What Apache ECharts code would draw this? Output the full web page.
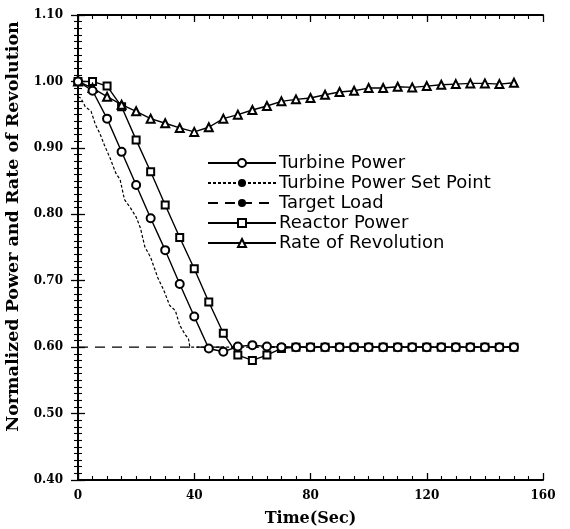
<!DOCTYPE html>
<html>
<head>
<meta charset="utf-8">
<script src="https://cdn.jsdelivr.net/npm/echarts@6/dist/echarts.min.js"></script>
<style>
  html, body { margin: 0; padding: 0; background: #fff; }
  #chart { width: 570px; height: 529px; }
</style>
</head>
<body>
<div id="chart"></div>
<script>
// sample times (sec) for the marked curves
const time = [0, 5, 10, 15, 20, 25, 30, 35, 40, 45, 50, 55, 60, 65, 70, 75, 80, 85, 90, 95,
  100, 105, 110, 115, 120, 125, 130, 135, 140, 145, 150]

const turbinePower = [1.000, 0.986, 0.944, 0.894, 0.844, 0.794, 0.746, 0.695, 0.646, 0.598,
  0.593, 0.601, 0.603, 0.601, 0.600, 0.600, 0.600, 0.600, 0.600, 0.600,
  0.600, 0.600, 0.600, 0.600, 0.600, 0.600, 0.600, 0.600, 0.600, 0.600, 0.600]

const reactorPower = [1.000, 1.000, 0.993, 0.962, 0.912, 0.864, 0.814, 0.765, 0.718, 0.668,
  0.621, 0.588, 0.580, 0.588, 0.598, 0.600, 0.600, 0.600, 0.600, 0.600,
  0.600, 0.600, 0.600, 0.600, 0.600, 0.600, 0.600, 0.600, 0.600, 0.600, 0.600]

const revolutionRate = [1.000, 0.990, 0.977, 0.965, 0.955, 0.944, 0.937, 0.930, 0.924, 0.931,
  0.944, 0.950, 0.957, 0.963, 0.970, 0.973, 0.975, 0.980, 0.984, 0.986,
  0.990, 0.990, 0.992, 0.991, 0.993, 0.995, 0.996, 0.997, 0.997, 0.996, 0.998]

// set point (dotted, no markers)
const setPointTime = [0, 1, 2.5, 4.5, 6, 7.5, 9, 11, 13, 14.5, 16, 18, 20, 21.5, 23, 25, 27.5,
  29.5, 31.5, 33.5, 35, 37, 38, 38.5, 150]
const setPointValue = [0.977, 0.975, 0.962, 0.955, 0.935, 0.922, 0.905, 0.885, 0.862, 0.852,
  0.822, 0.810, 0.796, 0.779, 0.751, 0.735, 0.704, 0.686, 0.663, 0.655, 0.633, 0.618, 0.613,
  0.600, 0.600]

const targetTime = [0, 150]
const targetValue = [0.6, 0.6]

const names = ['Turbine Power', 'Turbine Power Set Point', 'Target Load', 'Reactor Power', 'Rate of Revolution']

function pairs(xs, ys) {
  return xs.map((x, i) => [x, ys[i]])
}

// frame axis (ticks pointing inward); labels are set per axis
function frameAxis(pos, min, max, interval, minorSplit) {
  return {
    type: 'value',
    position: pos,
    min: min,
    max: max,
    interval: interval,
    axisLine: { show: true, lineStyle: { color: '#000', width: 2 } },
    axisTick: { show: true, inside: true, length: 7, lineStyle: { color: '#000', width: 1.3 } },
    minorTick: { show: true, splitNumber: minorSplit, length: 4, lineStyle: { color: '#000', width: 1.1 } },
    splitLine: { show: false },
    axisLabel: { show: false }
  }
}

const labelFont = {
  show: true,
  fontFamily: 'DejaVu Serif',
  fontWeight: 'bold',
  fontSize: 12,
  color: '#000'
}

const lineStyle = { color: '#000', width: 1.4 }

const xBottom = frameAxis('bottom', 0, 160, 40, 8)
xBottom.axisLabel = { ...labelFont, margin: 10 }
xBottom.name = 'Time(Sec)'
xBottom.nameLocation = 'middle'
xBottom.nameGap = 31
xBottom.nameTextStyle = { fontFamily: 'DejaVu Serif', fontWeight: 'bold', fontSize: 16, color: '#000' }

const yLeft = frameAxis('left', 0.4, 1.1, 0.1, 10)
yLeft.axisLabel = { ...labelFont, margin: 15, formatter: v => v.toFixed(2) }
yLeft.name = 'Normalized Power and Rate of Revolution'
yLeft.nameLocation = 'middle'
yLeft.nameGap = 48
yLeft.nameTextStyle = {
  fontFamily: 'DejaVu Serif', fontWeight: 'bold', fontSize: 17.5, color: '#000',
  padding: [0, 0, 0, 42]
}

const chart = echarts.init(document.getElementById('chart'))

chart.setOption({
  animation: false,
  backgroundColor: '#fff',
  grid: { left: 78, right: 27, top: 15, bottom: 49, outerBoundsMode: 'none', containLabel: false },
  legend: {
    orient: 'vertical',
    left: 207,
    top: 154,
    padding: 0,
    itemWidth: 68,
    itemHeight: 10,
    itemGap: 2,
    data: names,
    textStyle: { fontFamily: 'DejaVu Sans', fontSize: 18, color: '#000', padding: [0, 0, 0, -2] }
  },
  xAxis: [xBottom, frameAxis('top', 0, 160, 40, 8)],
  yAxis: [yLeft, frameAxis('right', 0.4, 1.1, 0.1, 10)],
  series: [{
    name: names[0],
    type: 'line',
    data: pairs(time, turbinePower),
    symbol: 'emptyCircle',
    symbolSize: 8,
    lineStyle: lineStyle,
    itemStyle: { color: '#000', borderWidth: 1.2 },
    z: 4
  }, {
    name: names[1],
    type: 'line',
    data: pairs(setPointTime, setPointValue),
    symbol: 'none',
    lineStyle: { color: '#000', width: 1.2, type: [3, 2] },
    itemStyle: { color: '#000' }
  }, {
    name: names[2],
    type: 'line',
    data: pairs(targetTime, targetValue),
    symbol: 'none',
    lineStyle: { color: '#000', width: 1.4, type: [10, 7] },
    itemStyle: { color: '#000' }
  }, {
    name: names[3],
    type: 'line',
    data: pairs(time, reactorPower),
    symbol: 'emptyRect',
    symbolSize: 7,
    lineStyle: lineStyle,
    itemStyle: { color: '#000', borderWidth: 1.2 },
    z: 3
  }, {
    name: names[4],
    type: 'line',
    data: pairs(time, revolutionRate),
    symbol: 'emptyTriangle',
    symbolSize: 8,
    lineStyle: lineStyle,
    itemStyle: { color: '#000', borderWidth: 1.2 },
    z: 3
  }]
})
</script>
</body>
</html>
